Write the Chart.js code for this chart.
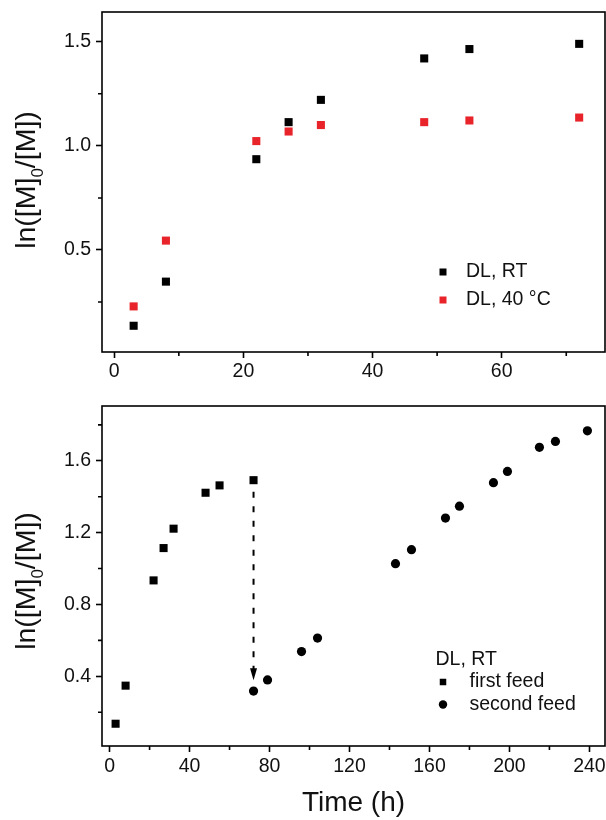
<!DOCTYPE html>
<html><head><meta charset="utf-8">
<script src="https://cdn.jsdelivr.net/npm/chart.js@4/dist/chart.umd.min.js"></script>
<style>
html,body{margin:0;padding:0;background:#fff;overflow:hidden;}
#c1{position:absolute;left:0;top:0;}
#c2{position:absolute;left:0;top:390px;}
</style>
</head><body>
<canvas id="c1" width="606" height="390"></canvas>
<canvas id="c2" width="606" height="430"></canvas>
<script>
// ---------- data ----------
const topTime   = [3, 8, 22, 27, 32, 48, 55, 72];
const topRT     = [0.136, 0.348, 0.936, 1.114, 1.221, 1.420, 1.465, 1.490];
const top40C    = [0.229, 0.545, 1.023, 1.069, 1.100, 1.114, 1.122, 1.136];

const firstTime = [3, 8, 22, 27, 32, 48, 55, 72];
const firstFeed = [0.136, 0.348, 0.934, 1.114, 1.222, 1.422, 1.463, 1.492];
const secondTime = [72, 79, 96, 104, 143, 151, 168, 175, 192, 199, 215, 223, 239];
const secondFeed = [0.318, 0.380, 0.538, 0.613, 1.027, 1.105, 1.281, 1.347, 1.478, 1.541, 1.675, 1.708, 1.767];

const topXTicks = [0, 20, 40, 60];
const topXMinor = [10, 30, 50, 70];
const topYTicks = [0.5, 1.0, 1.5];
const topYMinor = [0.25, 0.75, 1.25];
const botXTicks = [0, 40, 80, 120, 160, 200, 240];
const botXMinor = [20, 60, 100, 140, 180, 220];
const botYTicks = [0.4, 0.8, 1.2, 1.6];
const botYMinor = [0.2, 0.6, 1.0, 1.4, 1.8];

// feed arrow (time, from value, to value)
const arrowTime = 72, arrowFrom = 1.427, arrowTo = 0.378;

const FONT = '"Liberation Sans", Arial, Helvetica, sans-serif';
Chart.defaults.font.family = FONT;
const RED = '#e8242a';
const TXT = '#111';

const pairs = (xs, ys) => xs.map((x, i) => ({x, y: ys[i]}));
const fmt = (d) => (v) => Number(v).toFixed(d);
const noPad = s => { s.paddingTop = 0; s.paddingBottom = 0; s.paddingLeft = 0; s.paddingRight = 0; };

function axisX(min, max, ticks, padding, height) {
  return {
    type: 'linear', min, max,
    afterBuildTicks: s => { s.ticks = ticks.map(v => ({value: v})); },
    afterFit: s => { s.height = height; noPad(s); },
    ticks: {color: TXT, font: {size: 19.5}, padding, maxRotation: 0, autoSkip: false, callback: v => String(v)},
    grid: {display: true, drawOnChartArea: false, drawTicks: true, tickLength: 6, tickWidth: 1.6, tickColor: '#000'},
    border: {display: false},
  };
}
function axisY(min, max, ticks, dec) {
  return {
    type: 'linear', min, max,
    afterBuildTicks: s => { s.ticks = ticks.map(v => ({value: v})); },
    afterFit: s => { s.width = 102; noPad(s); },
    ticks: {color: TXT, font: {size: 19.5}, padding: 5, autoSkip: false, callback: fmt(dec)},
    grid: {display: true, drawOnChartArea: false, drawTicks: true, tickLength: 6, tickWidth: 1.6, tickColor: '#000'},
    border: {display: false},
  };
}

// frame, minor ticks, y title with subscript, legend, arrow
const decor = {
  id: 'decor',
  afterDraw(chart, args, o) {
    const ctx = chart.ctx, a = chart.chartArea;
    const xs = chart.scales.x, ys = chart.scales.y;
    ctx.save();
    ctx.strokeStyle = '#000'; ctx.lineWidth = 1.6;
    ctx.strokeRect(a.left, a.top, a.right - a.left, a.bottom - a.top);
    ctx.beginPath();
    o.minorX.forEach(v => { const p = xs.getPixelForValue(v); ctx.moveTo(p, a.bottom); ctx.lineTo(p, a.bottom + 4); });
    o.minorY.forEach(v => { const p = ys.getPixelForValue(v); ctx.moveTo(a.left, p); ctx.lineTo(a.left - 4, p); });
    ctx.stroke();
    // y title ln([M]0/[M])
    const fs = 28.5, sfs = 17;
    ctx.fillStyle = TXT;
    ctx.translate(34.5, o.titleCY);
    ctx.rotate(-Math.PI / 2);
    ctx.textBaseline = 'alphabetic'; ctx.textAlign = 'left';
    const p1 = 'ln([M]', p2 = '0', p3 = '/[M])';
    ctx.font = fs + 'px ' + FONT; const w1 = ctx.measureText(p1).width, w3 = ctx.measureText(p3).width;
    ctx.font = sfs + 'px ' + FONT; const w2 = ctx.measureText(p2).width;
    let sx = -(w1 + w2 + w3) / 2;
    ctx.font = fs + 'px ' + FONT; ctx.fillText(p1, sx, 0);
    ctx.font = sfs + 'px ' + FONT; ctx.fillText(p2, sx + w1, 8);
    ctx.font = fs + 'px ' + FONT; ctx.fillText(p3, sx + w1 + w2, 0);
    ctx.setTransform(1, 0, 0, 1, 0, 0);
    // legend
    const L = o.legend;
    ctx.font = '19.5px ' + FONT; ctx.textBaseline = 'middle'; ctx.textAlign = 'left';
    let y = L.y;
    if (L.title) { ctx.fillStyle = TXT; ctx.fillText(L.title, L.titleX, y); y += L.dy; }
    chart.data.datasets.forEach(ds => {
      ctx.fillStyle = ds.backgroundColor;
      if (ds.pointStyle === 'circle') { ctx.beginPath(); ctx.arc(L.mx, y, L.cr, 0, Math.PI * 2); ctx.fill(); }
      else { ctx.fillRect(L.mx - L.sq / 2, y - L.sq / 2, L.sq, L.sq); }
      ctx.fillStyle = TXT; ctx.fillText(ds.label, L.tx, y);
      y += L.dy;
    });
    // arrow
    if (o.arrow) {
      const ax = xs.getPixelForValue(o.arrow.t);
      const y1 = ys.getPixelForValue(o.arrow.from), y2 = ys.getPixelForValue(o.arrow.to);
      ctx.strokeStyle = '#000'; ctx.lineWidth = 2; ctx.setLineDash([6, 8.5]);
      ctx.beginPath(); ctx.moveTo(ax, y1); ctx.lineTo(ax, y2 - 11); ctx.stroke();
      ctx.setLineDash([]); ctx.fillStyle = '#000';
      ctx.beginPath(); ctx.moveTo(ax - 3.5, y2 - 12); ctx.lineTo(ax + 3.5, y2 - 12); ctx.lineTo(ax, y2); ctx.closePath(); ctx.fill();
    }
    ctx.restore();
  }
};

const common = {responsive: false, animation: false, devicePixelRatio: 1, events: []};

new Chart(document.getElementById('c1'), {
  type: 'scatter',
  data: {datasets: [
    {label: 'DL, RT', data: pairs(topTime, topRT), pointStyle: 'rect', pointRadius: 5.7, backgroundColor: '#000', borderWidth: 0},
    {label: 'DL, 40 °C', data: pairs(topTime, top40C), pointStyle: 'rect', pointRadius: 5.7, backgroundColor: RED, borderWidth: 0},
  ]},
  options: Object.assign({}, common, {
    layout: {autoPadding: false, padding: {top: 12, right: 1, left: 0, bottom: 0}},
    scales: {
      x: axisX(-1.9, 76, topXTicks, 2, 38),
      y: axisY(0.01, 1.643, topYTicks, 1),
    },
    plugins: {
      legend: {display: false}, tooltip: {enabled: false},
      decor: {minorX: topXMinor, minorY: topYMinor, titleCY: 180,
        legend: {y: 272, dy: 28, mx: 443, sq: 7, tx: 466}},
    },
  }),
  plugins: [decor],
});

new Chart(document.getElementById('c2'), {
  type: 'scatter',
  data: {datasets: [
    {label: 'first feed', data: pairs(firstTime, firstFeed), pointStyle: 'rect', pointRadius: 5.7, backgroundColor: '#000', borderWidth: 0},
    {label: 'second feed', data: pairs(secondTime, secondFeed), pointStyle: 'circle', pointRadius: 4.6, backgroundColor: '#000', borderWidth: 0},
  ]},
  options: Object.assign({}, common, {
    layout: {autoPadding: false, padding: {top: 16, right: 1, left: 0, bottom: 0}},
    scales: {
      x: Object.assign(axisX(-3.8, 247.8, botXTicks, 3, 74), {
        title: {display: true, text: 'Time (h)', color: TXT, font: {size: 28}, padding: {top: 0, bottom: 0}},
      }),
      y: axisY(0.012, 1.905, botYTicks, 1),
    },
    plugins: {
      legend: {display: false}, tooltip: {enabled: false},
      decor: {minorX: botXMinor, minorY: botYMinor, titleCY: 191,
        legend: {title: 'DL, RT', titleX: 435.5, y: 269.5, dy: 22.5, mx: 443, sq: 6.5, cr: 4.2, tx: 469.5},
        arrow: {t: arrowTime, from: arrowFrom, to: arrowTo}},
    },
  }),
  plugins: [decor],
});
</script>
</body></html>
